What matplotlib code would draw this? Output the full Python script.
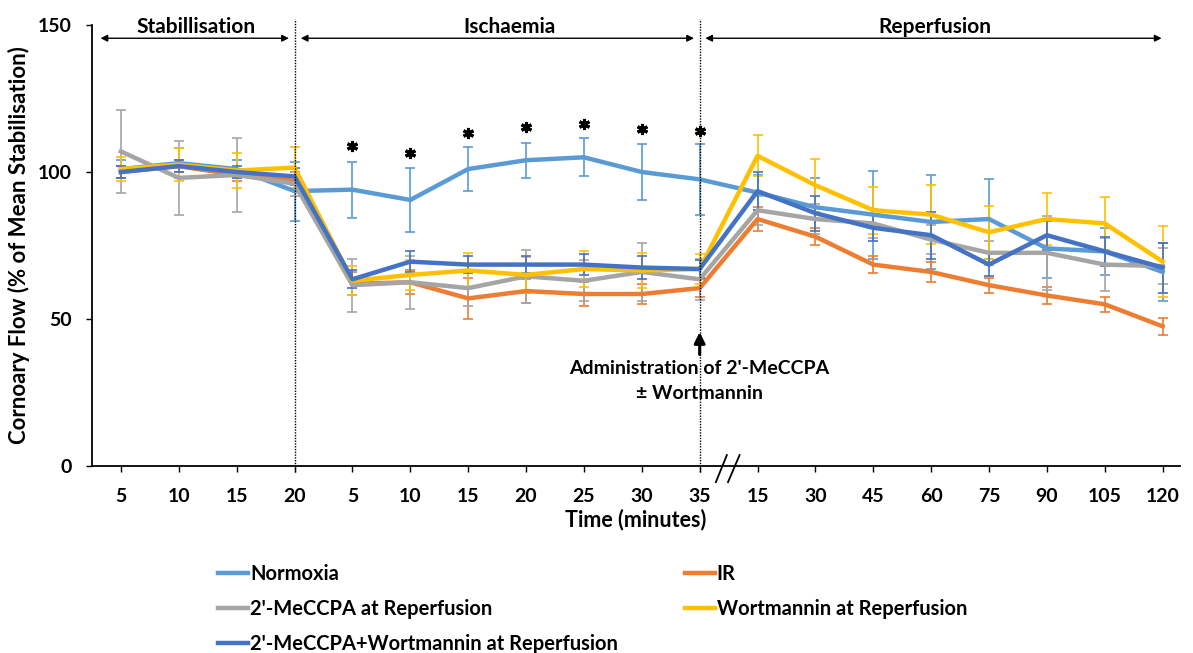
import matplotlib
matplotlib.use("Agg")
import matplotlib.pyplot as plt

# Categories (x-axis labels)
x_labels = ["5", "10", "15", "20", "5", "10", "15", "20", "25", "30", "35",
            "15", "30", "45", "60", "75", "90", "105", "120"]

# Series values (% of mean stabilisation) and error bars
normoxia = [101, 103, 101, 93.5, 94, 90.5, 101, 104, 105, 100, 97.5, 93, 88, 85.5, 83, 84, 74, 73, 66]
normoxia_err = [3, 5, 3, 10, 9.5, 11, 7.5, 6, 6.5, 9.5, 12, 6, 10, 15, 16, 13.5, 10, 8, 10]

ir = [100, 102, 99, 97, 62, 62.5, 57, 59.5, 58.5, 58.5, 60.5, 84, 78, 68.5, 66, 61.5, 58, 55, 47.5]
ir_err = [2, 2, 2, 3, 4, 4, 7, 4, 4, 3.5, 3, 4, 3, 3, 3.5, 2.5, 3, 2.5, 3]

mecpa = [107, 98, 99, 96, 61.5, 62.5, 60.5, 64.5, 63, 66, 63.5, 87, 84, 82.5, 77, 72.5, 72.5, 68.5, 68]
mecpa_err = [14, 12.5, 12.5, 4, 9, 9, 6, 9, 7, 10, 7, 5, 5, 5, 5, 4, 12.5, 9, 6]

wort = [101, 102.5, 100.5, 101.5, 63, 65, 66.5, 65, 67, 66.5, 67, 105.5, 95.5, 87, 85.5, 79.5, 84, 82.5, 69.5]
wort_err = [4, 5.5, 6, 7, 5, 5, 6, 6, 6, 6, 5, 7, 9, 8, 10, 9, 9, 9, 12]

mecpa_wort = [100, 102, 100, 98.5, 63.5, 69.5, 68.5, 68.5, 68.5, 67.5, 67, 93.5, 86, 81, 78.5, 68.5, 78.5, 73, 67.5]
mecpa_wort_err = [2, 2, 2, 3, 3, 3.5, 3, 3, 3.5, 4, 3, 6.5, 6, 4.5, 8, 4, 5, 5, 8.5]

# Significance asterisks (ischaemia points)
star_idx = [4, 5, 6, 7, 8, 9, 10]
star_y = [108.8, 106.5, 113.3, 115.3, 116.3, 114.6, 114]

# Phase labels
phase_names = ["Stabillisation", "Ischaemia", "Reperfusion"]

series = [
    ("Normoxia", normoxia, normoxia_err, "#5B9BD5"),
    ("IR", ir, ir_err, "#ED7D31"),
    ("2'-MeCCPA at Reperfusion", mecpa, mecpa_err, "#A5A5A5"),
    ("Wortmannin at Reperfusion", wort, wort_err, "#FFC000"),
    ("2'-MeCCPA+Wortmannin at Reperfusion", mecpa_wort, mecpa_wort_err, "#4472C4"),
]

plt.rcParams["font.family"] = ["Lato", "DejaVu Sans"]
plt.rcParams["font.weight"] = "bold"

fig = plt.figure(figsize=(11.93, 6.53), dpi=100)
ax = fig.add_axes([0.0771, 0.2864, 0.912, 0.6753])

x = list(range(len(x_labels)))
handles = {}
for nome, valores, erros, cor in series:
    ax.errorbar(x, valores, yerr=erros, color=cor, ecolor=cor, elinewidth=1.2,
                capsize=3.5, capthick=1.2, lw=0)
for nome, valores, erros, cor in series:
    linha, = ax.plot(x, valores, color=cor, lw=3.2, label=nome)
    handles[nome] = linha

ax.set_xlim(-0.5, 18.3)
ax.set_ylim(0, 150)
ax.set_yticks([0, 50, 100, 150])
ax.set_xticks(x)
ax.set_xticklabels(x_labels)
ax.tick_params(axis="both", labelsize=14, width=1, length=4.5)
ax.tick_params(axis="x", pad=11)
ax.tick_params(axis="y", pad=10)
for lado in ["top", "right"]:
    ax.spines[lado].set_visible(False)
for lado in ["left", "bottom"]:
    ax.spines[lado].set_linewidth(1.3)

# Vertical separators
for pos in [3, 10]:
    ax.plot([pos, pos], [-2, 152], color="black", lw=1, linestyle=(0, (1, 1)), clip_on=False)

# Phase arrows and labels
arrow_span = [(-0.4, 2.95), (3.06, 9.95), (10.05, 18.03)]
label_x = [1.3, 6.72, 14.06]
for nome, (x0, x1), lx in zip(phase_names, arrow_span, label_x):
    ax.annotate("", xy=(x1, 145.5), xytext=(x0, 145.5),
                arrowprops=dict(arrowstyle="<|-|>", color="black", lw=1, mutation_scale=10),
                annotation_clip=False)
    ax.text(lx, 149.3, nome, ha="center", va="center", fontsize=15, clip_on=False)

# Asterisks
ax.plot(star_idx, star_y, linestyle="none", marker=(6, 2, 0), ms=8, mew=2.2, color="black")

# Administration arrow
ax.annotate("", xy=(10, 46.5), xytext=(10, 37),
            arrowprops=dict(arrowstyle="-|>", color="black", lw=2.2, mutation_scale=16))
ax.text(10, 33.3, "Administration of 2'-MeCCPA", ha="center", va="center", fontsize=14)
ax.text(10, 24.8, "± Wortmannin", ha="center", va="center", fontsize=14)

# Axis break
for xa, xb in [(10.28, 10.47), (10.49, 10.69)]:
    ax.plot([xa, xb], [-5.5, 3.7], color="black", lw=1.3, clip_on=False)

ax.set_xlabel("Time (minutes)", fontsize=15.5, fontweight="bold", labelpad=3)
ax.set_ylabel("Cornoary Flow (% of Mean Stabilisation)", fontsize=16, fontweight="bold", labelpad=6)

ordem = ["Normoxia", "2'-MeCCPA at Reperfusion", "2'-MeCCPA+Wortmannin at Reperfusion",
         "IR", "Wortmannin at Reperfusion"]
fig.legend([handles[n] for n in ordem], ordem, ncol=2, loc="upper left",
           bbox_to_anchor=(0.1676, 0.164), frameon=False, fontsize=14.5,
           handlelength=1.5, handletextpad=0.1, columnspacing=3.3, labelspacing=0.75)

fig.savefig("out.png", dpi=100)
